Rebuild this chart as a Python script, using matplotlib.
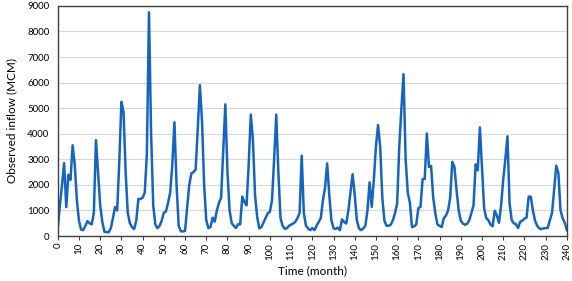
import matplotlib
matplotlib.use("Agg")
import matplotlib.pyplot as plt
import numpy as np

plt.rcParams['font.family'] = ['Lato', 'DejaVu Sans']

months = list(range(0, 241))
inflow = [
    300, 1200, 2000, 2850, 1130, 2400, 2200, 3550, 2800, 1400,   # 0-9
    600, 250, 230, 400, 580, 500, 460, 900, 3750, 2500,          # 10-19
    1200, 550, 170, 150, 150, 300, 700, 1130, 1000, 2900,        # 20-29
    5250, 4850, 2500, 900, 500, 350, 270, 600, 1450, 1450,       # 30-39
    1500, 1700, 3200, 8750, 4000, 1200, 450, 310, 400, 600,      # 40-49
    910, 960, 1300, 1700, 2800, 4450, 2000, 400, 190, 180,       # 50-59
    200, 1130, 2000, 2450, 2500, 2600, 4200, 5900, 4500, 2000,   # 60-69
    620, 310, 350, 720, 560, 1000, 1300, 1500, 3300, 5150,       # 70-79
    2500, 1010, 500, 400, 310, 460, 460, 1540, 1330, 1200,       # 80-89
    2800, 4750, 3750, 1600, 750, 300, 350, 530, 700, 890,        # 90-99
    950, 1400, 3000, 4750, 2500, 700, 400, 290, 300, 400,        # 100-109
    450, 490, 560, 700, 900, 3140, 900, 400, 300, 230,           # 110-119
    310, 230, 400, 550, 700, 1400, 1900, 2840, 1600, 620,        # 120-129
    300, 280, 330, 230, 650, 550, 490, 1000, 1700, 2420,         # 130-139
    1600, 620, 300, 230, 300, 400, 1000, 2100, 1140, 2200,       # 140-149
    3500, 4340, 3490, 1500, 600, 400, 400, 450, 620, 900,        # 150-159
    1280, 3500, 5000, 6330, 3000, 1700, 1300, 350, 380, 450,     # 160-169
    1090, 1140, 2230, 2230, 4010, 2700, 2740, 1500, 890, 450,    # 170-179
    400, 350, 700, 800, 1000, 1500, 2900, 2700, 1800, 1010,      # 180-189
    600, 490, 440, 480, 620, 900, 1200, 2800, 2570, 4250,        # 190-199
    2700, 1090, 700, 620, 450, 390, 990, 800, 520, 1200,         # 200-209
    2200, 3000, 3900, 1280, 620, 500, 460, 310, 560, 600,        # 210-219
    680, 720, 1540, 1540, 1000, 600, 400, 300, 270, 300,         # 220-229
    310, 320, 620, 900, 1800, 2750, 2470, 1010, 700, 520,        # 230-239
    230,                                                         # 240
]

x_ticks = list(range(0, 241, 10))
y_ticks = list(range(0, 9001, 1000))

fig = plt.figure(figsize=(5.72, 2.81), dpi=100)
ax = fig.add_axes([0.101, 0.160, 0.890, 0.819])

ax.plot(months, inflow, color='#1565C0', linewidth=1.8, solid_joinstyle='round')

ax.set_xlim(0, 240)
ax.set_ylim(0, 9000)
ax.set_xticks(x_ticks)
ax.set_yticks(y_ticks)
ax.set_xticklabels([str(t) for t in x_ticks], rotation=90, fontsize=7)
ax.set_yticklabels([str(t) for t in y_ticks], fontsize=7)
ax.tick_params(axis='y', length=0, pad=6)
ax.tick_params(axis='x', length=3, pad=2, color='#404040')
ax.grid(axis='y', color='#d9d9d9', linewidth=0.8)
ax.set_axisbelow(True)
for s in ax.spines.values():
    s.set_color('#404040')
    s.set_linewidth(1.0)

ax.set_xlabel('Time (month)', fontsize=8.5, labelpad=4)
ax.set_ylabel('Observed inflow (MCM)', fontsize=8.5, labelpad=7)

fig.savefig('out.png', dpi=100)
